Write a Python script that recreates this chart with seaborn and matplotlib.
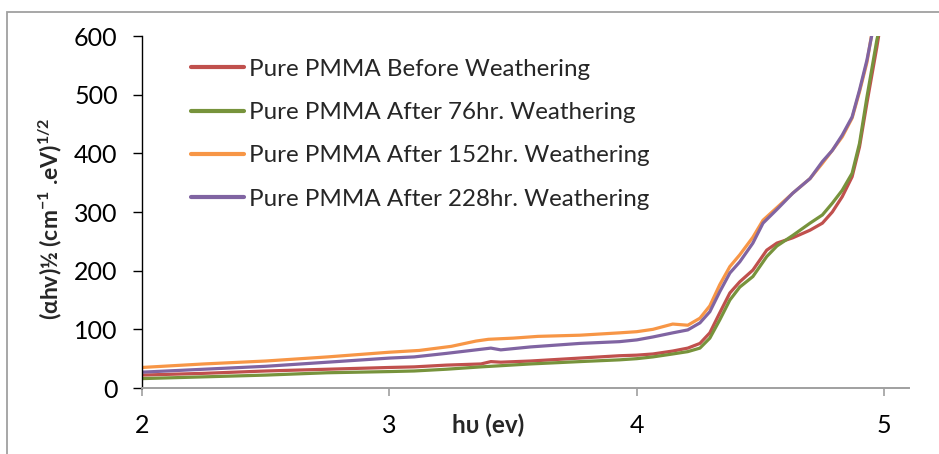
import numpy as np
import pandas as pd
import matplotlib
matplotlib.use("Agg")
import matplotlib.pyplot as plt
from matplotlib.patches import Rectangle
import seaborn as sns

# ------------------------------------------------------------
# data (hv in eV, (ahv)^1/2)
# ------------------------------------------------------------
labels = [
    "Pure PMMA Before Weathering",
    "Pure PMMA After 76hr. Weathering",
    "Pure PMMA After 152hr. Weathering",
    "Pure PMMA After 228hr. Weathering",
]
colors = ["#C0504D", "#77933C", "#F79646", "#8064A2"]

x_before = [2.0, 2.25, 2.5, 2.75, 3.0, 3.1, 3.23, 3.37, 3.41, 3.45, 3.57, 3.77,
            3.93, 4.0, 4.065, 4.145, 4.206, 4.255, 4.295, 4.335, 4.376, 4.416,
            4.469, 4.525, 4.566, 4.63, 4.70, 4.75, 4.79, 4.83, 4.87, 4.90,
            4.93, 4.97, 4.985]
y_before = [22, 25, 29, 32, 35, 36, 39, 41, 45, 44, 46, 51,
            55, 56, 58, 63, 68, 76, 94, 128, 162, 181,
            201, 235, 247, 256, 269, 281, 300, 326, 360, 411,
            486, 581, 620]

x_76 = [2.0, 2.25, 2.5, 2.75, 3.0, 3.1, 3.23, 3.37, 3.45, 3.57, 3.77, 3.93,
        4.0, 4.065, 4.145, 4.206, 4.255, 4.295, 4.335, 4.376, 4.416, 4.469,
        4.525, 4.566, 4.63, 4.70, 4.75, 4.79, 4.83, 4.87, 4.90, 4.93, 4.97,
        4.99]
y_76 = [16, 19, 22, 26, 28, 29, 32, 36, 38, 41, 45, 48,
        50, 53, 58, 62, 68, 85, 116, 150, 172, 190,
        224, 242, 260, 281, 295, 315, 337, 366, 417, 496, 593,
        630]

x_152 = [2.0, 2.25, 2.5, 2.75, 3.0, 3.12, 3.25, 3.35, 3.4, 3.5, 3.6, 3.77,
         3.93, 4.0, 4.065, 4.145, 4.206, 4.255, 4.295, 4.335, 4.376, 4.416,
         4.469, 4.51, 4.57, 4.63, 4.70, 4.75, 4.79, 4.83, 4.87, 4.90, 4.93,
         4.95, 4.96]
y_152 = [35, 41, 46, 53, 61, 64, 71, 80, 83, 85, 88, 90,
         94, 96, 100, 109, 107, 119, 140, 176, 207, 227,
         257, 286, 309, 332, 357, 383, 405, 428, 460, 505, 555,
         605, 630]

x_228 = [2.0, 2.25, 2.5, 2.75, 3.0, 3.1, 3.23, 3.37, 3.41, 3.45, 3.57, 3.77,
         3.93, 4.0, 4.065, 4.145, 4.206, 4.255, 4.295, 4.335, 4.376, 4.416,
         4.469, 4.51, 4.57, 4.63, 4.70, 4.75, 4.79, 4.83, 4.87, 4.90, 4.93,
         4.95, 4.965]
y_228 = [27, 32, 37, 44, 51, 53, 59, 66, 68, 65, 70, 76,
         79, 82, 87, 94, 99, 111, 130, 164, 196, 215,
         247, 281, 306, 332, 357, 386, 405, 431, 462, 508, 559,
         602, 630]

x_ticks = [2, 3, 4, 5]
y_ticks = [0, 100, 200, 300, 400, 500, 600]

# ------------------------------------------------------------
# long-form table for seaborn
# ------------------------------------------------------------
frames = []
for lab, xs, ys in zip(labels, [x_before, x_76, x_152, x_228],
                       [y_before, y_76, y_152, y_228]):
    frames.append(pd.DataFrame({"hv": xs, "val": ys, "sample": lab}))
df = pd.concat(frames, ignore_index=True)

sns.set_theme(style="ticks")
plt.rcParams["font.family"] = ["Lato", "DejaVu Sans"]
plt.rcParams["mathtext.fontset"] = "custom"
plt.rcParams["mathtext.bf"] = "Lato:bold"
plt.rcParams["mathtext.rm"] = "Lato"
plt.rcParams["mathtext.default"] = "bf"

fig = plt.figure(figsize=(9.39, 4.54), dpi=100)
ax = fig.add_axes([142 / 939, 1 - 388 / 454, 767 / 939, 352 / 454])

sns.lineplot(data=df, x="hv", y="val", hue="sample", hue_order=labels,
             palette=colors, estimator=None, sort=False, linewidth=2.3,
             ax=ax)
for ln in ax.get_lines():
    ln.set_solid_joinstyle("round")
    ln.set_solid_capstyle("round")

ax.set_xlim(2, 5.1)
ax.set_ylim(0, 600)
ax.set_xticks(x_ticks)
ax.set_yticks(y_ticks)
ax.tick_params(axis="both", labelsize=18, colors="black")
ax.tick_params(axis="x", length=6, width=1.2, color="#A0A0A0", pad=13)
ax.tick_params(axis="y", length=6.5, width=1.0, color="black", pad=11)

for s in ["top", "right"]:
    ax.spines[s].set_visible(False)
ax.spines["bottom"].set_color("#A0A0A0")
ax.spines["bottom"].set_linewidth(1.4)
ax.spines["left"].set_color("black")
ax.spines["left"].set_linewidth(1.0)

ax.set_xlabel("hυ (ev)", fontsize=17.5, fontweight="bold")
ax.xaxis.set_label_coords((488 - 142) / 767, -0.072)
ax.set_ylabel(r"(αhv)½ (cm$^{-1}$ .eV)$^{1/2}$", fontsize=16.5,
              fontweight="bold")
ax.yaxis.set_label_coords(-0.102, 0.48)

leg = ax.legend(loc="upper left", bbox_to_anchor=((191 - 142) / 767, 0.935),
                frameon=False, fontsize=17.4, handlelength=2.2,
                handletextpad=0.22, labelspacing=0.92, borderpad=0,
                borderaxespad=0)
for h in leg.get_lines():
    h.set_linewidth(3)

# outer chart border (runs off the right and bottom edges)
fig.patches.append(Rectangle((7 / 939, -0.1), 1.2, 1.1 - 12 / 454,
                             transform=fig.transFigure, fill=False,
                             edgecolor="#A0A0A0", linewidth=1.3))

fig.savefig("out.png", dpi=100)
